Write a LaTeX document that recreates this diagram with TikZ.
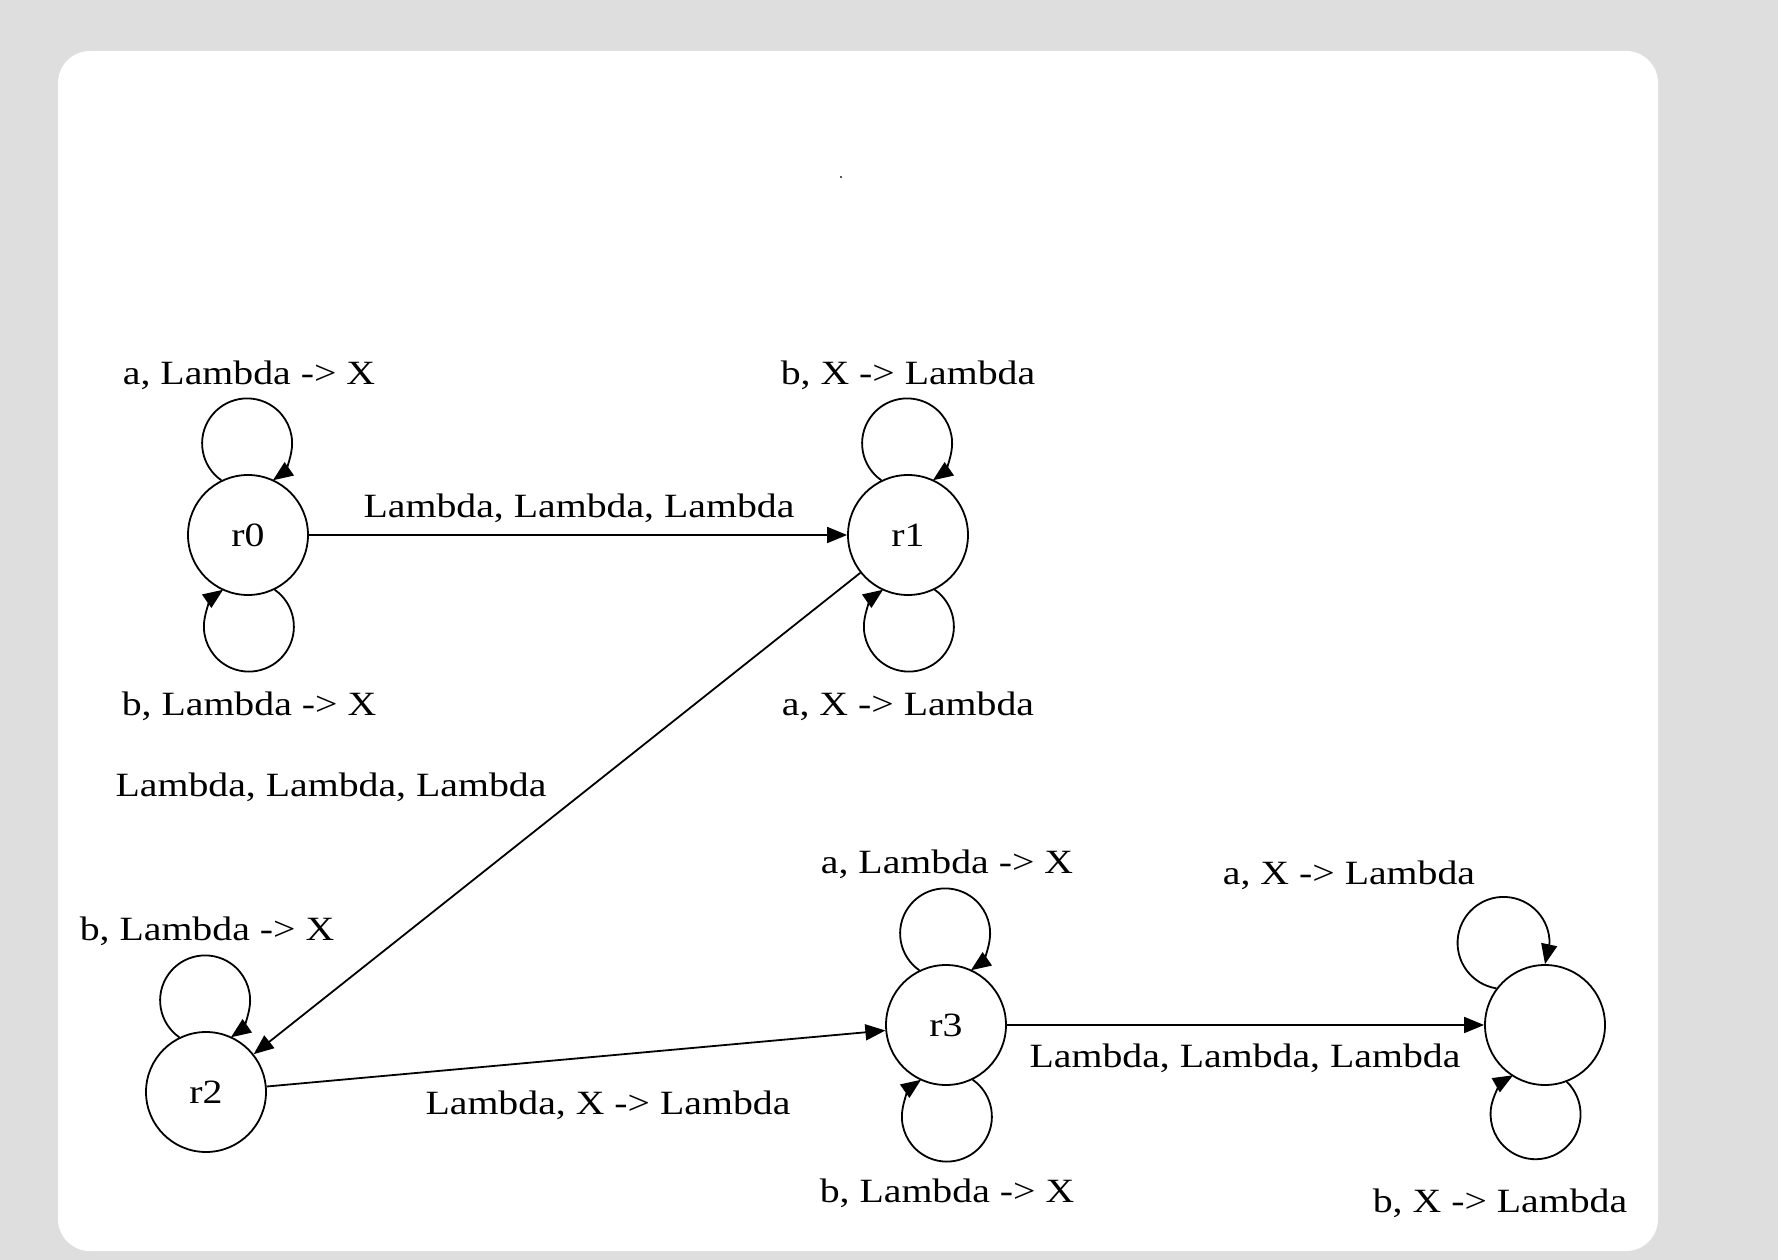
\documentclass[tikz,border=0pt]{standalone}
\usepackage{fontspec}
\setmainfont{Liberation Serif}[FakeStretch=1.17]
\usetikzlibrary{arrows.meta}
\definecolor{canvas}{RGB}{222,222,222}
\begin{document}
\begin{tikzpicture}[x=1pt,y=1pt,
  state/.style={circle, draw, line width=1.8pt, minimum size=120pt, inner sep=0pt,
                font=\fontsize{34}{40}\selectfont},
  lbl/.style={anchor=base, inner sep=0pt, font=\fontsize{34}{40}\selectfont},
  arr/.style={line width=1.8pt, -{Triangle[length=20pt,width=16pt]}},
]
% page and card
\fill[canvas] (0,0) rectangle (1778,-1260);
\useasboundingbox (0,0) rectangle (1778,-1260);
\fill[white, rounded corners=32pt] (58,-51) rectangle (1658,-1251);
\fill[black!65] (840,-176) rectangle (842,-178);

% states
\node[state] (r0) at (248,-535) {r0};
\node[state] (r1) at (908,-535) {r1};
\node[state] (r2) at (206,-1092) {r2};
\node[state] (r3) at (946,-1025) {r3};
\node[state] (r4) at (1545,-1025) {};

% transitions between states
\draw[arr] (r0) -- (r1);
\draw[arr] (r1) -- (r2);
\draw[arr] (r2) -- (r3);
\draw[arr] (r3) -- (r4);

% self loops
\draw[arr] (r0.116) arc[start angle=235, end angle=-55, radius=45];
\draw[arr] (r0.-64) arc[start angle=55, end angle=-235, radius=45];
\draw[arr] (r1.116) arc[start angle=235, end angle=-55, radius=45];
\draw[arr] (r1.-64) arc[start angle=55, end angle=-235, radius=45];
\draw[arr] (r2.116) arc[start angle=235, end angle=-55, radius=45];
\draw[arr] (r3.116) arc[start angle=235, end angle=-55, radius=45];
\draw[arr] (r3.-64) arc[start angle=55, end angle=-235, radius=45];
\draw[arr] (r4.143) arc[start angle=261, end angle=0, radius=46] -- (r4.90);
\draw[arr] (r4.-69) arc[start angle=46, end angle=-240, radius=45];

% labels
\node[lbl] (l1)  at (249,-384)  {a, Lambda -> X};
\node[lbl] (l2)  at (249,-715)  {b, Lambda -> X};
\node[lbl] (l3)  at (579,-517)  {Lambda, Lambda, Lambda};
\node[lbl] (l4)  at (908,-384)  {b, X -> Lambda};
\node[lbl] (l5)  at (908,-715)  {a, X -> Lambda};
\node[lbl] (l6)  at (331,-796)  {Lambda, Lambda, Lambda};
\node[lbl] (l7)  at (207,-940)  {b, Lambda -> X};
\node[lbl] (l8)  at (947,-873)  {a, Lambda -> X};
\node[lbl] (l9)  at (947,-1202) {b, Lambda -> X};
\node[lbl] (l10) at (608,-1114) {Lambda, X -> Lambda};
\node[lbl] (l11) at (1245,-1067) {Lambda, Lambda, Lambda};
\node[lbl] (l12) at (1349,-884) {a, X -> Lambda};
\node[lbl] (l13) at (1500,-1212) {b, X -> Lambda};
\end{tikzpicture}
\end{document}
